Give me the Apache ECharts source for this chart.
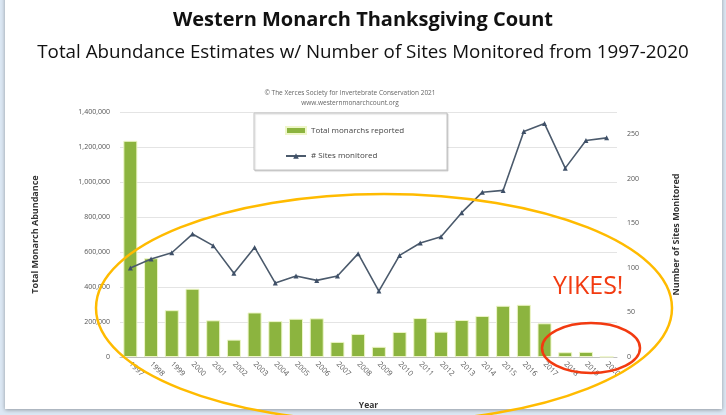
<!DOCTYPE html>
<html>
<head>
<meta charset="utf-8">
<script src="https://cdn.jsdelivr.net/npm/echarts@6/dist/echarts.min.js"></script>
<style>
html,body{margin:0;padding:0;background:#dce8f4;}
#c{width:726px;height:415px;}
</style>
</head>
<body>
<div id="c"></div>
<script>
const years = ['1997','1998','1999','2000','2001','2002','2003','2004','2005','2006','2007','2008','2009','2010','2011','2012','2013','2014','2015','2016','2017','2018','2019','2020'];
const monarchs = [1235490,564349,267574,390057,209570,99353,254378,205085,218679,221058,86437,131889,58468,143204,222525,144812,211275,234731,292888,298464,192624,27218,29418,1914];
const sites = [100,110,117,138,125,94,123,83,91,86,91,116,74,114,128,135,162,185,187,253,262,212,243,246];
const leftTicks = {min:0, max:1400000, interval:200000};
const rightTicks = {min:0, max:275, interval:50};

const chart = echarts.init(document.getElementById('c'), null, {renderer:'canvas'});
const font = '"Open Sans", "Liberation Sans", sans-serif';
chart.setOption({
  backgroundColor:'#dce8f4',
  animation:false,
  title:[
    {text:'Western Monarch Thanksgiving Count', left:'center', top:5,
     textStyle:{fontFamily:font, fontSize:20, fontWeight:'bold', color:'#111'}},
    {text:'Total Abundance Estimates w/ Number of Sites Monitored from 1997-2020', left:'center', top:38,
     textStyle:{fontFamily:font, fontSize:18.8, fontWeight:'normal', color:'#111'}},
    {text:'© The Xerces Society for Invertebrate Conservation 2021\nwww.westernmonarchcount.org', left:345, textAlign:'center', top:83,
     textStyle:{fontFamily:font, fontSize:6.5, fontWeight:'normal', color:'#666', lineHeight:10, align:'center'}}
  ],
  graphic:[
    {type:'rect', z:-10, shape:{x:5,y:-5,width:717,height:414}, style:{fill:'#fff', shadowBlur:4, shadowColor:'rgba(0,0,0,0.35)', shadowOffsetY:1}},
    {type:'rect', z:1, shape:{x:254,y:113,width:193,height:57}, style:{fill:'#fff', stroke:'#c4c4c4', lineWidth:1, shadowBlur:1, shadowColor:'rgba(0,0,0,0.15)', shadowOffsetX:1, shadowOffsetY:1}},
    {type:'ellipse', z:100, shape:{cx:384, cy:308, rx:288, ry:114}, style:{fill:null, stroke:'#ffbb00', lineWidth:2.5}},
    {type:'ellipse', z:100, shape:{cx:591, cy:348, rx:49, ry:25}, style:{fill:null, stroke:'#f23a10', lineWidth:2.5}},
    {type:'text', z:100, left:553, top:274, style:{text:'YIKES!', fontFamily:font, fontSize:25, fill:'#f23a10'}}
  ],
  legend:{
    orient:'vertical', left:280, top:121, itemGap:17, itemWidth:20, itemHeight:7, z:5,
    textStyle:{fontFamily:font, fontSize:8, color:'#444'},
    data:[{name:'Total monarchs reported', icon:'rect'}, {name:'# Sites monitored'}]
  },
  grid:{left:120, right:109, top:112, bottom:57},
  xAxis:{
    type:'category', data:years, boundaryGap:true,
    name:'Year', nameLocation:'middle', nameGap:44,
    nameTextStyle:{fontFamily:font, fontSize:8.5, fontWeight:'bold', color:'#333'},
    axisLine:{lineStyle:{color:'#bfbfbf'}},
    axisTick:{show:false},
    axisLabel:{rotate:-45, interval:0, fontFamily:font, fontSize:7.5, color:'#555', margin:6}
  },
  yAxis:[
    {type:'value', min:leftTicks.min, max:leftTicks.max, interval:leftTicks.interval,
     name:'Total Monarch Abundance', nameLocation:'middle', nameGap:80, nameRotate:90,
     nameTextStyle:{fontFamily:font, fontSize:9, fontWeight:'bold', color:'#333'},
     axisLine:{show:false}, axisTick:{show:false},
     splitLine:{lineStyle:{color:'#e4e4e4'}},
     axisLabel:{fontFamily:font, fontSize:7, color:'#555', margin:10,
       formatter:v=>v.toLocaleString('en-US')}},
    {type:'value', min:rightTicks.min, max:rightTicks.max, interval:rightTicks.interval,
     name:'Number of Sites Monitored', nameLocation:'middle', nameGap:55, nameRotate:90,
     nameTextStyle:{fontFamily:font, fontSize:9, fontWeight:'bold', color:'#333'},
     axisLine:{show:false}, axisTick:{show:false}, splitLine:{show:false},
     axisLabel:{fontFamily:font, fontSize:7, color:'#555', margin:10, showMaxLabel:false,
       formatter:v=>(v%50===0?String(v):'')}}
  ],
  series:[
    {name:'Total monarchs reported', type:'bar', data:monarchs, yAxisIndex:0, barWidth:14,
     itemStyle:{color:'#8cb43f', borderColor:'#eef6c8', borderWidth:1}},
    {name:'# Sites monitored', type:'line', data:sites, yAxisIndex:1, z:3,
     symbol:'triangle', symbolSize:5, showSymbol:true,
     lineStyle:{color:'#4b5a6c', width:1.6},
     itemStyle:{color:'#3f5068'}}
  ]
});
</script>
</body>
</html>
